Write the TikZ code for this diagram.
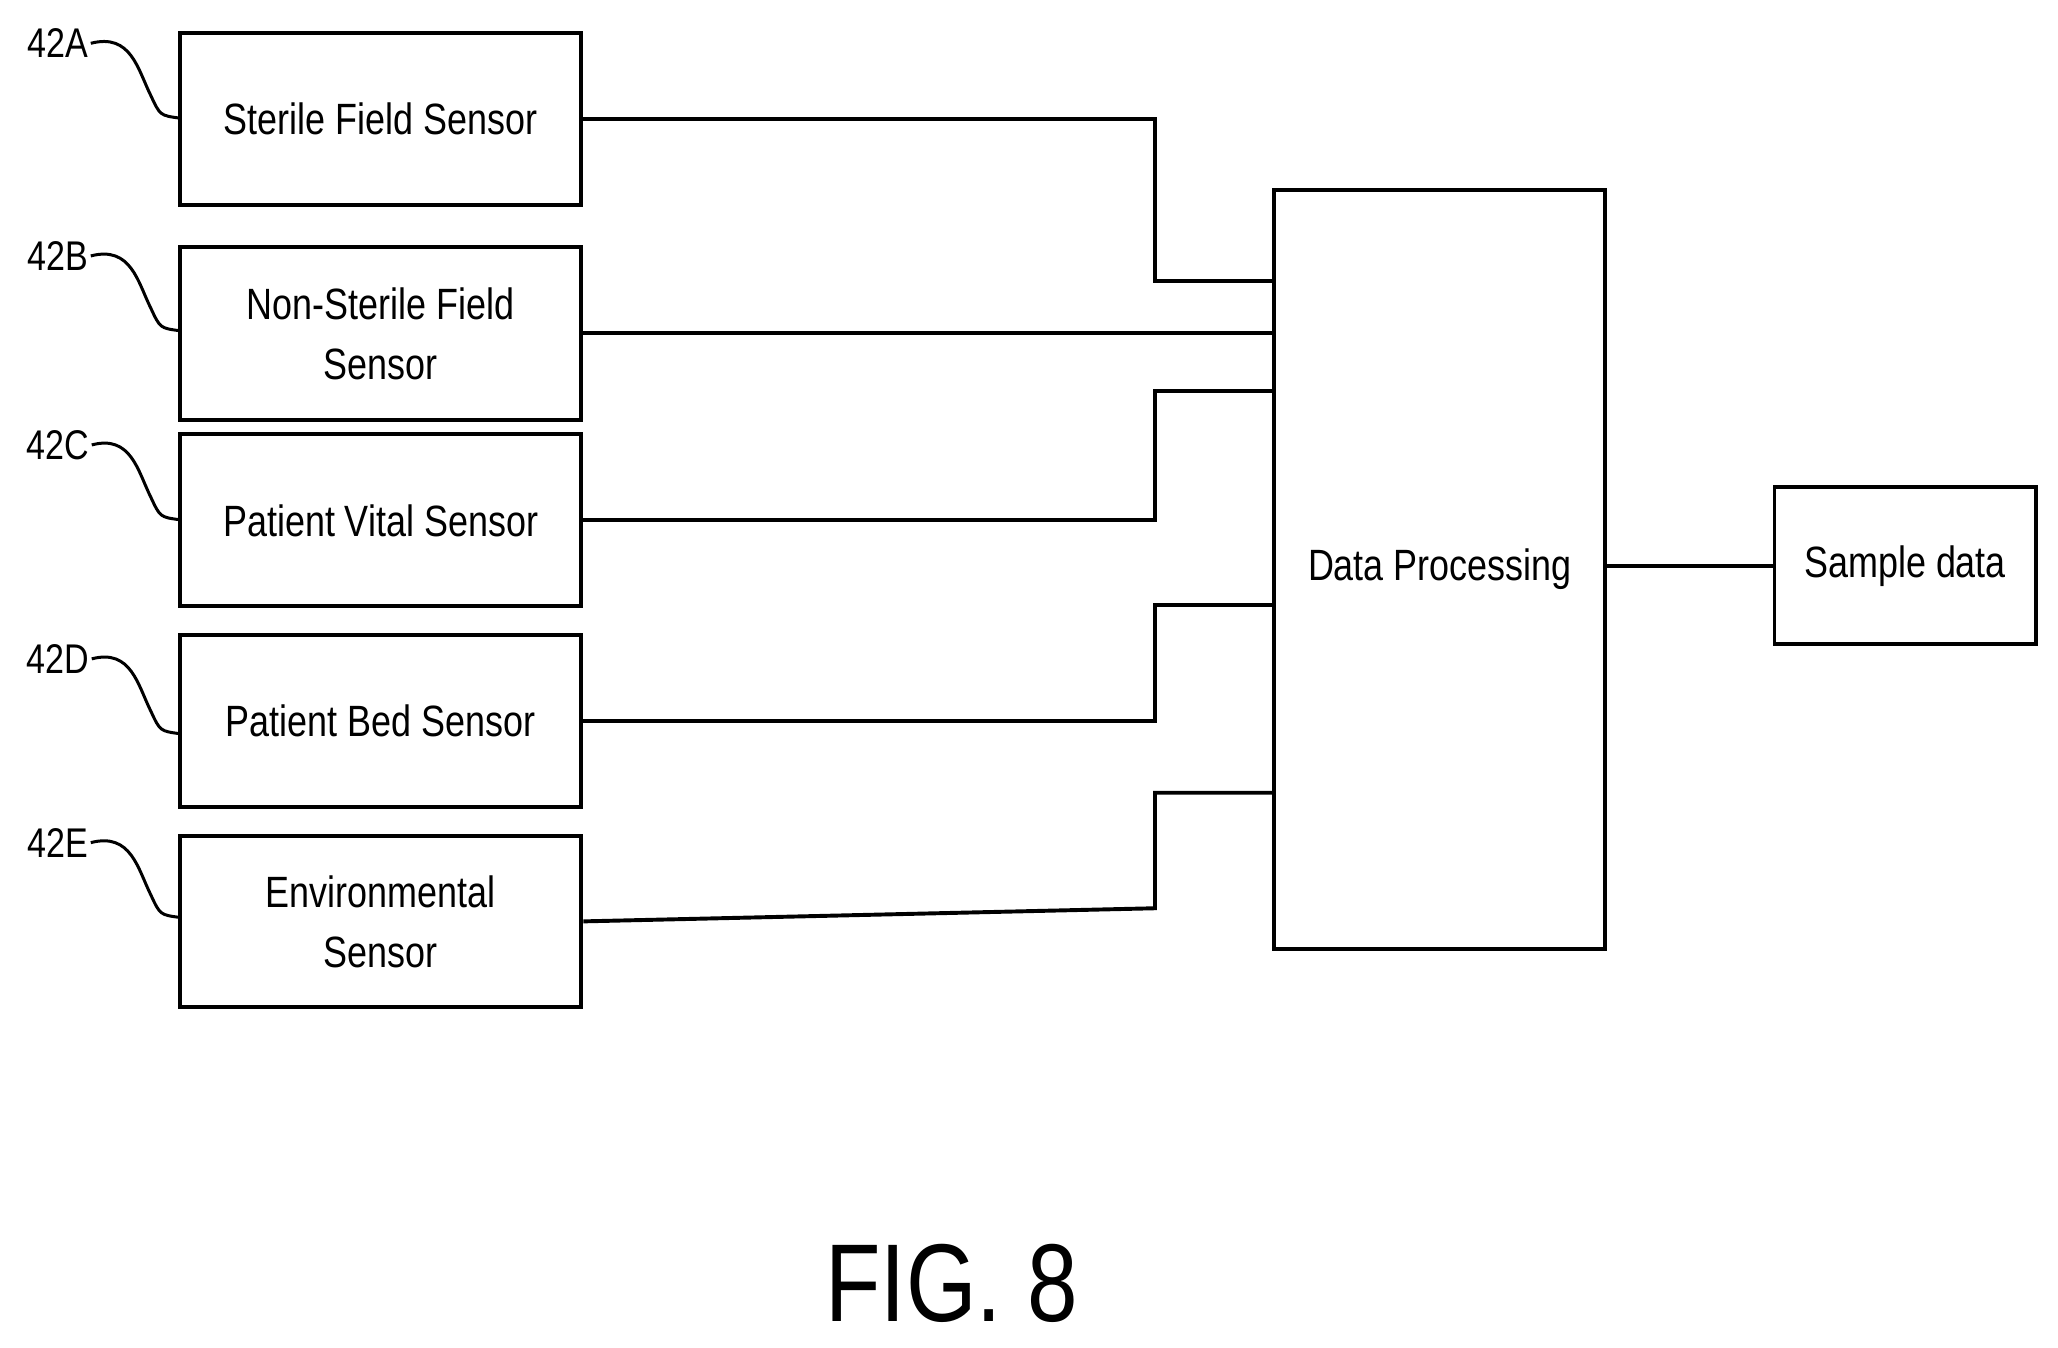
\documentclass[tikz,border=0pt]{standalone}
\usepackage{fontspec}
\setmainfont{Liberation Sans}[FakeStretch=0.82]
\begin{document}
\begin{tikzpicture}[x=0.02cm,y=-0.02cm,
  box/.style={draw,line width=1.7pt,inner sep=0pt,align=center,font=\fontsize{19}{26}\selectfont},
  wire/.style={line width=1.7pt},
  lbl/.style={font=\fontsize{18}{20}\selectfont,inner sep=1pt}]
\useasboundingbox (0,0) rectangle (1568,1027);
\node[box,minimum width=306*0.02cm,minimum height=131*0.02cm] (a) at (290,90.5) {Sterile Field Sensor};
\node[box,minimum width=306*0.02cm,minimum height=132*0.02cm] (b) at (290,254) {Non-Sterile Field\\Sensor};
\node[box,minimum width=306*0.02cm,minimum height=131*0.02cm] (c) at (290,396.5) {Patient Vital Sensor};
\node[box,minimum width=306*0.02cm,minimum height=131*0.02cm] (d) at (290,549.5) {Patient Bed Sensor};
\node[box,minimum width=306*0.02cm,minimum height=130*0.02cm] (e) at (290,702) {Environmental\\Sensor};
\node[box,minimum width=252*0.02cm,minimum height=578*0.02cm] (p) at (1097,434) {Data Processing};
\node[box,minimum width=199*0.02cm,minimum height=120*0.02cm] (s) at (1451.5,431) {Sample data};
\coordinate (pa) at (971,214); \coordinate (pb) at (971,254);
\coordinate (pc) at (971,298); \coordinate (pd) at (971,461);
\coordinate (pe) at (971,604);
\draw[wire] (a.east) -- (880,90.5) -- (880,214) -- (pa);
\draw[wire] (b.east) -- (pb);
\draw[wire] (c.east) -- (880,396.5) -- (880,298) -- (pc);
\draw[wire] (d.east) -- (880,549.5) -- (880,461) -- (pd);
\draw[wire] (e.east) -- (880,692) -- (880,604) -- (pe);
\draw[wire] (p.east |- s.west) -- (s.west);
\foreach \n/\t/\y in {a/42A/33,b/42B/195,c/42C/339,d/42D/502,e/42E/642}{
  \node[lbl] (l\n) at (44,\y) {\t};
  \coordinate (q\n) at (137,\y+57);
  \draw[line width=1.3pt] (l\n.east) .. controls (100,\y-8) and (105,\y+20) .. (115,\y+40) .. controls (122,\y+55) .. (q\n);
}
\node[font=\fontsize{48}{50}\selectfont] (fig) at (725,978) {FIG. 8};
\end{tikzpicture}
\end{document}
